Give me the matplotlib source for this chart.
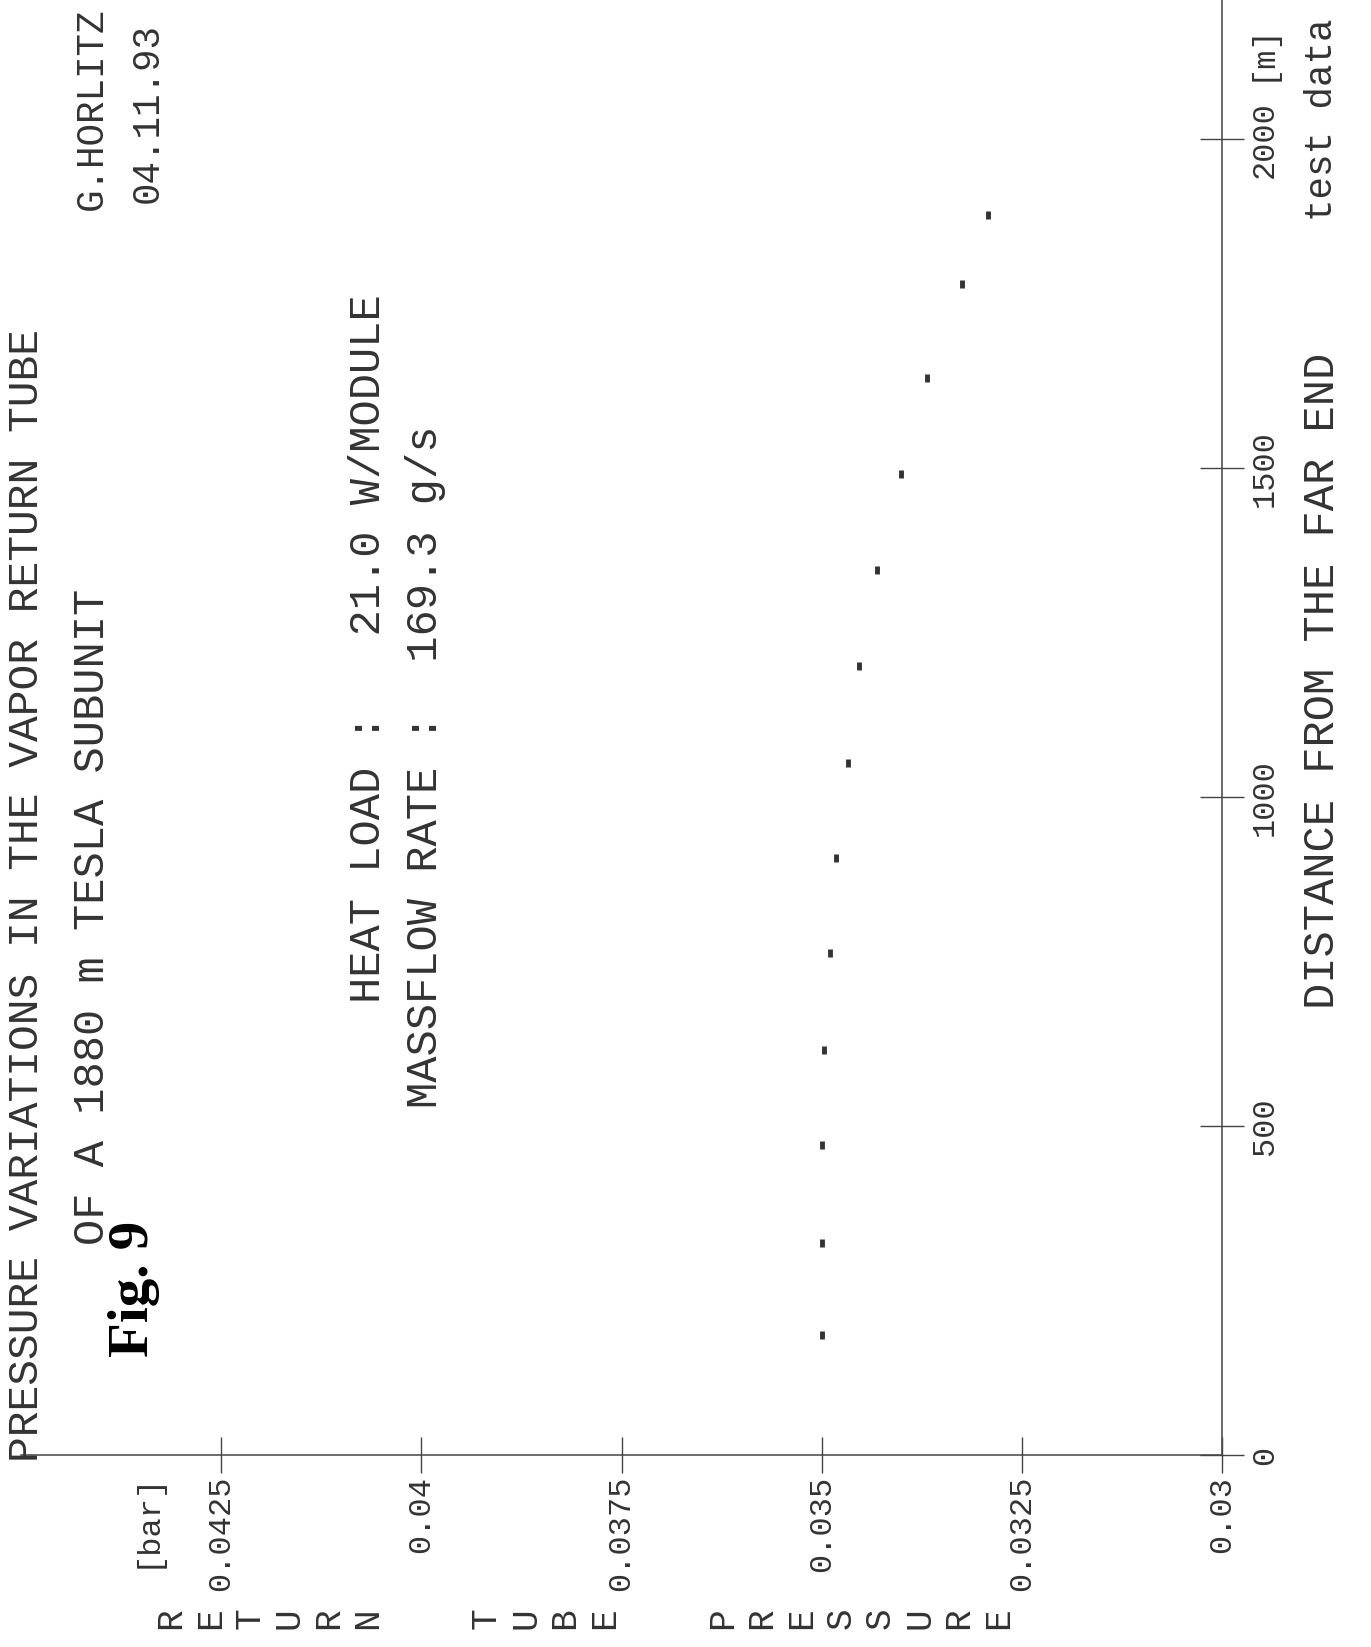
import numpy as np
import matplotlib
matplotlib.use("Agg")
import matplotlib.pyplot as plt

# measured pressure in the vapor return tube vs distance from the far end
distance = [182, 322, 471, 616, 763, 908, 1052, 1200, 1346, 1492, 1638, 1780, 1885]
pressure = [0.03500, 0.03500, 0.03500, 0.03497, 0.03489, 0.03482, 0.03467,
            0.03453, 0.03431, 0.03401, 0.03368, 0.03325, 0.03292]

pressure_ticks = [0.03, 0.0325, 0.035, 0.0375, 0.04, 0.0425]
pressure_labels = ["0.03", "0.0325", "0.035", "0.0375", "0.04", "0.0425"]
distance_ticks = [0, 500, 1000, 1500, 2000]
distance_labels = ["0", "500", "1000", "1500", "2000"]

W, H = 1371, 1647
INK = "#333333"
MONO = "Liberation Mono"

fig = plt.figure(figsize=(W / 100, H / 100), dpi=100)
fig.patch.set_facecolor("white")


def vtext(x, y, s, size, **kw):
    # text turned 90 deg, starting at pixel (x, y) and reading upwards
    kw.setdefault("family", MONO)
    kw.setdefault("color", INK)
    fig.text(x / W, 1 - y / H, s, rotation=90, rotation_mode="anchor",
             ha="left", va="center", fontsize=size, **kw)


ax = fig.add_axes([21 / W, (H - 1455) / H, (1222 - 21) / W, 1455 / H])
ax.set_xlim(0.045, 0.03)
ax.set_ylim(0, 2212)
ax.patch.set_alpha(0)

for side in ["top", "left"]:
    ax.spines[side].set_visible(False)
for side in ["bottom", "right"]:
    ax.spines[side].set_color("#444444")
    ax.spines[side].set_linewidth(1.1)
    ax.spines[side].set_linestyle((0, (4, 1)))

ax.plot(pressure, distance, ls="none", marker="|", ms=6, mew=3.5,
        color=INK, clip_on=False)

ax.set_xticks(pressure_ticks)
ax.set_xticklabels(pressure_labels, family=MONO, fontsize=23, color=INK,
                   rotation=90)
ax.tick_params(axis="x", direction="inout", length=26, width=1,
               color="#444444", pad=2)

ax.yaxis.tick_right()
ax.set_yticks(distance_ticks)
ax.set_yticklabels(distance_labels, family=MONO, fontsize=23, color=INK,
                   rotation=90)
for lab in ax.get_yticklabels():
    lab.set_va("center")
ax.tick_params(axis="y", direction="inout", length=32, width=1,
               color="#444444", pad=4, left=False, right=True,
               labelleft=False, labelright=True)

ax.annotate("[m]", xy=(0.03, 2000), xytext=(40, 58),
            textcoords="offset pixels", rotation=90, rotation_mode="anchor",
            ha="left", va="center", family=MONO, fontsize=23, color=INK)

# header block
vtext(27, 1462, "PRESSURE VARIATIONS IN THE VAPOR RETURN TUBE", 31)
vtext(92, 1245, "OF A 1880 m TESLA SUBUNIT", 31.5)
vtext(92, 210, "G.HORLITZ", 27)
vtext(148, 203, "04.11.93", 27)
vtext(134, 1357, "Fig. 9", 41, family="Liberation Serif",
      fontweight="bold", color="black")

# run conditions
vtext(368, 1003, "HEAT LOAD :   21.0 W/MODULE", 31.5)
vtext(425, 1108, "MASSFLOW RATE :  169.3 g/s", 31.5)

# axis titles
vtext(1322, 1009, "DISTANCE FROM THE FAR END", 31.5)
vtext(1322, 221, "test data", 27)
vtext(147, 1568, "[bar]", 23)

letters = "RETURN  TUBE  PRESSURE"
for k, ch in enumerate(letters):
    if ch != " ":
        fig.text((171 + k * 39.4) / W, 1 - 1618 / H, ch, rotation=90,
                 ha="center", va="center", family=MONO, fontsize=26,
                 color=INK)

fig.savefig("out.png", dpi=100, facecolor="white")
